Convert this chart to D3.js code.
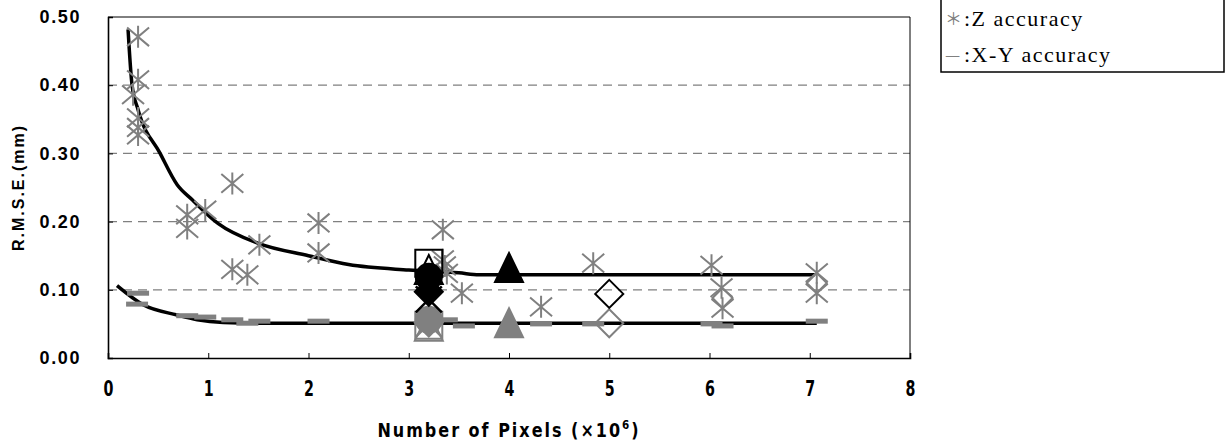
<!DOCTYPE html>
<html>
<head>
<meta charset="utf-8">
<script src="https://cdn.jsdelivr.net/npm/d3@7"></script>
<style>
  body { margin: 0; background: white; }
</style>
</head>
<body>
<div id="chart"></div>
<script>
// Z accuracy points (gray asterisks)
const zX = [0.30, 0.30, 0.25, 0.30, 0.30, 0.30, 0.79, 0.79, 0.97, 1.24, 1.24, 1.39, 1.51, 2.10, 2.10,
            3.34, 3.34, 3.36, 3.38, 3.53, 4.32, 4.84, 6.02, 6.12, 6.13, 7.07, 7.07];
const zY = [0.471, 0.408, 0.386, 0.352, 0.338, 0.327, 0.210, 0.190, 0.217, 0.256, 0.130, 0.122, 0.166, 0.198, 0.154,
            0.188, 0.144, 0.135, 0.124, 0.095, 0.075, 0.139, 0.136, 0.103, 0.073, 0.125, 0.095];

// gray open diamonds among the Z points
const zDiamondX = [6.13, 7.07];
const zDiamondY = [0.088, 0.110];

// X-Y accuracy points (gray dashes)
const xyX = [0.30, 0.29, 0.79, 0.97, 1.24, 1.39, 1.51, 2.10, 3.38, 3.55, 4.32, 4.84, 6.02, 6.13, 7.07];
const xyY = [0.095, 0.079, 0.062, 0.060, 0.056, 0.051, 0.054, 0.054, 0.056, 0.047, 0.050, 0.050, 0.050, 0.047, 0.054];

// fitted curves
const zFitX = [0.20, 0.24, 0.30, 0.52, 0.69, 0.84, 1.10, 1.50, 2.00, 2.40, 3.00, 3.50, 3.70, 7.05];
const zFitY = [0.482, 0.400, 0.364, 0.300, 0.254, 0.232, 0.197, 0.168, 0.150, 0.137, 0.129, 0.125, 0.122, 0.122];
const xyFitX = [0.09, 0.35, 0.69, 0.89, 1.15, 1.50, 7.07];
const xyFitY = [0.106, 0.078, 0.063, 0.056, 0.052, 0.051, 0.051];

// other methods: position, Z value (black), X-Y value (gray), marker
const methodX = [3.2, 3.2, 3.2, 3.2, 3.2, 4.0, 5.0];
const methodZ = [0.139, 0.129, 0.119, 0.097, 0.086, 0.132, 0.094];
const methodXY = [0.048, 0.046, 0.056, 0.052, 0.050, 0.051, 0.051];
const methodShape = ['square', 'triangle', 'circle', 'diamond', 'cross', 'triangle', 'diamond'];
const methodFilled = [false, false, true, true, false, true, false];

const xTicks = [0, 1, 2, 3, 4, 5, 6, 7, 8];
const yTicks = [0, 0.1, 0.2, 0.3, 0.4, 0.5];
const legendRows = ['\uFF0A', '\u2014'];
const legendLabels = [':Z accuracy', ':X-Y accuracy'];

let width = 1226, height = 441;
let margin = { top: 17, bottom: 83, left: 108, right: 316 };

let svg = d3.select('#chart')
    .append('svg')
    .attr('width', width)
    .attr('height', height)
    .style('background', 'white');

let x = d3.scaleLinear()
    .domain([0, 8])
    .range([margin.left, width - margin.right]);

let y = d3.scaleLinear()
    .domain([0, 0.5])
    .range([height - margin.bottom, margin.top]);

const gray = '#808080';
const narrow = '"DejaVu Sans", sans-serif';

// dashed grid
svg.append('g')
  .selectAll('line')
  .data(yTicks.filter(d => d > 0 && d < 0.5))
  .enter()
  .append('line')
    .attr('x1', x(0)).attr('x2', x(8))
    .attr('y1', d => y(d)).attr('y2', d => y(d))
    .attr('stroke', gray)
    .attr('stroke-width', 1.2)
    .attr('stroke-dasharray', '9,6');

// frame: top and right
svg.append('path')
  .attr('d', `M${x(0)},${y(0.5)}H${x(8)}V${y(0)}`)
  .attr('fill', 'none')
  .attr('stroke', 'black')
  .attr('stroke-width', 1);

// axes with inner ticks
let xaxis = svg.append('g')
    .attr('transform', `translate(0,${y(0)})`)
    .call(d3.axisBottom(x).tickValues(xTicks).tickSize(-5).tickFormat(d3.format('d')).tickPadding(23));
xaxis.select('.domain').attr('stroke-width', 1.6);
xaxis.selectAll('text')
    .style('font-family', narrow)
    .style('font-weight', 'bold')
    .style('font-size', '21px')
    .attr('transform', 'scale(0.68,1)')
    .attr('fill', 'black');

let yaxis = svg.append('g')
    .attr('transform', `translate(${x(0)},0)`)
    .call(d3.axisLeft(y).tickValues(yTicks).tickSize(-5).tickFormat(d3.format('.2f')).tickPadding(27));
yaxis.select('.domain').attr('stroke-width', 1.6);
yaxis.selectAll('text')
    .style('font-family', '"Liberation Sans", Arial, sans-serif')
    .style('font-weight', 'bold')
    .style('font-size', '18px')
    .style('letter-spacing', '1.6px')
    .attr('fill', 'black');

// axis titles
svg.append('text')
  .attr('transform', `translate(24,${(y(0) + y(0.5)) / 2}) rotate(-90)`)
  .attr('text-anchor', 'middle')
  .style('font-family', '"Liberation Sans", Arial, sans-serif')
  .style('font-weight', 'bold')
  .style('font-size', '16px')
  .style('letter-spacing', '2px')
  .text('R.M.S.E.(mm)');

let xt = svg.append('text')
  .attr('transform', `translate(${(x(0) + x(8)) / 2},437) scale(0.8,1)`)
  .attr('text-anchor', 'middle')
  .style('font-family', narrow)
  .style('font-weight', 'bold')
  .style('font-size', '20px')
  .style('letter-spacing', '2.5px');
xt.append('tspan').text('Number of Pixels (\u00D710');
xt.append('tspan').attr('dy', -8).style('font-size', '13px').text('6');
xt.append('tspan').attr('dy', 8).text(')');

// fitted curves
const fitLine = d3.line().x(d => x(d[0])).y(d => y(d[1])).curve(d3.curveMonotoneX);
svg.append('path')
  .datum(d3.zip(zFitX, zFitY))
  .attr('d', fitLine)
  .attr('fill', 'none')
  .attr('stroke', 'black')
  .attr('stroke-width', 3.5);
svg.append('path')
  .datum(d3.zip(xyFitX, xyFitY))
  .attr('d', fitLine)
  .attr('fill', 'none')
  .attr('stroke', 'black')
  .attr('stroke-width', 3.5);

// asterisk: vertical bar plus an X
function asterisk(r) {
  let w = r, h = r * 0.85;
  return `M0,${-r}V${r}M${-w},${-h}L${w},${h}M${-w},${h}L${w},${-h}`;
}

svg.append('g')
  .selectAll('path')
  .data(d3.zip(zX, zY))
  .enter()
  .append('path')
    .attr('transform', d => `translate(${x(d[0])},${y(d[1])})`)
    .attr('d', asterisk(11))
    .attr('fill', 'none')
    .attr('stroke', gray)
    .attr('stroke-width', 2);

svg.append('g')
  .selectAll('path')
  .data(d3.zip(zDiamondX, zDiamondY))
  .enter()
  .append('path')
    .attr('transform', d => `translate(${x(d[0])},${y(d[1])})`)
    .attr('d', 'M0,-10L10,0L0,10L-10,0Z')
    .attr('fill', 'none')
    .attr('stroke', gray)
    .attr('stroke-width', 2);

// X-Y dashes
svg.append('g')
  .selectAll('rect')
  .data(d3.zip(xyX, xyY))
  .enter()
  .append('rect')
    .attr('x', d => x(d[0]) - 11)
    .attr('y', d => y(d[1]) - 2.5)
    .attr('width', 22)
    .attr('height', 5)
    .attr('fill', gray);

// method markers
function shapePath(s) {
  if (s === 'square') return 'M-13.5,-13.5H13.5V13.5H-13.5Z';
  if (s === 'triangle') return 'M0,-15L14,14H-14Z';
  if (s === 'diamond') return 'M0,-14L14,0L0,14L-14,0Z';
  if (s === 'cross') return 'M-13,-13L13,13M-13,13L13,-13';
  return 'M13,0A13,13 0 1,1 -13,0A13,13 0 1,1 13,0Z';
}

function drawMethods(values, color) {
  methodX.forEach((mx, i) => {
    svg.append('path')
      .attr('transform', `translate(${x(mx)},${y(values[i])})`)
      .attr('d', shapePath(methodShape[i]))
      .attr('fill', methodFilled[i] ? color : 'none')
      .attr('stroke', color)
      .attr('stroke-width', methodShape[i] === 'cross' ? 2.5 : 2);
  });
}
drawMethods(methodXY, gray);
drawMethods(methodZ, 'black');

// legend (top edge runs off the page)
const legend = svg.append('g');
legend.append('rect')
  .attr('x', 941).attr('y', -40)
  .attr('width', 283).attr('height', 112)
  .attr('fill', 'white')
  .attr('stroke', 'black')
  .attr('stroke-width', 1.5);

legendLabels.forEach((label, i) => {
  legend.append('text')
    .attr('x', 945).attr('y', 25 + i * 36)
    .attr('fill', gray)
    .style('font-family', '"Noto Sans CJK JP", sans-serif')
    .style('font-size', '17px')
    .text(legendRows[i]);
  legend.append('text')
    .attr('x', 964).attr('y', 26 + i * 36)
    .style('font-family', '"Liberation Serif", "Times New Roman", serif')
    .style('font-size', '22px')
    .style('letter-spacing', '1.5px')
    .text(label);
});
</script>
</body>
</html>
